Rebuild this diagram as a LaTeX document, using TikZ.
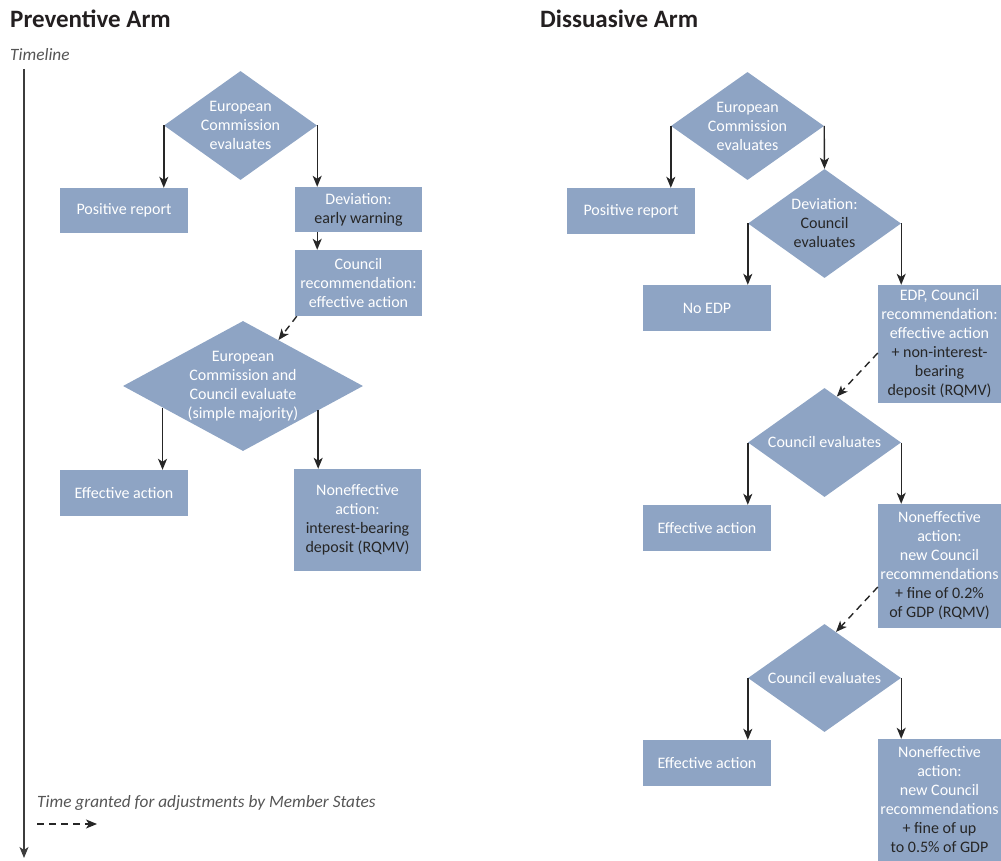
\documentclass[tikz,border=0pt]{standalone}
\usepackage{fontspec}
\setmainfont{Carlito}
\usepackage{xcolor}
\usepackage{tikz}
\usetikzlibrary{arrows.meta,shapes.geometric,calc}
\definecolor{armblue}{HTML}{8EA4C4}
\definecolor{textdark}{HTML}{262626}
\definecolor{titledark}{HTML}{231F20}
\definecolor{linegray}{HTML}{262626}
\definecolor{notegray}{HTML}{555555}
\newcommand{\darktext}[1]{\textcolor{textdark}{#1}}

\begin{document}
\begin{tikzpicture}[x=1pt,y=-1pt,
  box/.style={rectangle,fill=armblue,text=white,align=center,inner sep=0pt,font=\fontsize{16}{19}\selectfont},
  decision/.style={diamond,fill=armblue,text=white,align=center,inner sep=-4pt,font=\fontsize{16}{19}\selectfont},
  arr/.style={draw=linegray,line width=1.4pt,-{Stealth[length=11pt,width=9pt,inset=3pt]}},
  dasharr/.style={arr,dash pattern=on 7pt off 5pt},
  armtitle/.style={anchor=west,inner sep=0pt,text=titledark,font=\fontsize{25}{30}\selectfont\bfseries},
  note/.style={anchor=west,inner sep=0pt,text=notegray,font=\fontsize{17.3}{20}\selectfont\itshape}]
  \useasboundingbox (0,0) rectangle (1001,861);

  % timeline and legend
  \node[armtitle] (ptitle) at (10,19) {Preventive Arm};
  \node[note] (timeline) at (10,55) {Timeline};
  \coordinate (tltop) at (24,69);
  \coordinate (tlbot) at (24,858);
  \draw[arr,draw=notegray!70!black] (tltop) -- (tlbot);
  \node[note] (legend) at (37,803) {Time granted for adjustments by Member States};
  \coordinate (lgstart) at (37,824);
  \coordinate (lgend) at (97,824);
  \draw[dasharr] (lgstart) -- (lgend);

  % preventive arm
  \node[decision,aspect=1.4,minimum width=153pt,minimum height=109pt] (pd1) at (240.5,125.5) {European\\Commission\\evaluates};
  \node[box,minimum width=128pt,minimum height=45pt] (ppos) at (124,210.5) {Positive report};
  \node[box,minimum width=127pt,minimum height=45pt] (pdev) at (358.5,209.5) {Deviation:\\\darktext{early warning}};
  \node[box,minimum width=127pt,minimum height=66pt] (prec) at (358.5,283) {Council\\recommendation:\\effective action};
  \node[decision,aspect=1.85,minimum width=240pt,minimum height=130pt] (pd2) at (243,386) {European\\Commission and\\Council evaluate\\(simple majority)};
  \node[box,minimum width=128pt,minimum height=46pt] (peff) at (124,493) {Effective action};
  \node[box,minimum width=127pt,minimum height=102pt] (pnon) at (357.5,520) {Noneffective\\action:\\\darktext{interest-bearing}\\\darktext{deposit (RQMV)}};

  \draw[arr] (pd1.west) -- (pd1.west |- ppos.north);
  \draw[arr] (pd1.east) -- (pd1.east |- pdev.north);
  \draw[arr] (pd1.east |- pdev.south) -- (pd1.east |- prec.north);
  \draw[dasharr] ([xshift=2pt]prec.south west) -- (pd2);
  \draw[arr] (pd2.195.6) -- (pd2.195.6 |- peff.north);
  \draw[arr] (pd2.342.3) -- (pd2.342.3 |- pnon.north);

  % dissuasive arm
  \node[armtitle] (dtitle) at (540,19) {Dissuasive Arm};
  \node[decision,aspect=1.4,minimum width=153pt,minimum height=108pt] (dd1) at (747.5,126) {European\\Commission\\evaluates};
  \node[box,minimum width=128pt,minimum height=46pt] (dpos) at (631,211) {Positive report};
  \node[decision,aspect=1.4,minimum width=153pt,minimum height=109pt] (dd2) at (824.5,223.5) {Deviation:\\\darktext{Council}\\\darktext{evaluates}};
  \node[box,minimum width=128pt,minimum height=46pt] (dnoedp) at (707,308) {No EDP};
  \node[box,minimum width=123pt,minimum height=118pt] (dedp) at (939.5,344) {EDP, Council\\recommendation:\\effective action\\\darktext{+ non-interest-}\\\darktext{bearing}\\\darktext{deposit (RQMV)}};
  \node[decision,aspect=1.4,minimum width=153pt,minimum height=109pt] (dd3) at (824.5,442.5) {Council evaluates};
  \node[box,minimum width=128pt,minimum height=46pt] (deff1) at (707,528) {Effective action};
  \node[box,minimum width=123pt,minimum height=124pt] (dnon1) at (939.5,566) {Noneffective\\action:\\new Council\\recommendations\\\darktext{+ fine of 0.2\%}\\\darktext{of GDP (RQMV)}};
  \node[decision,aspect=1.4,minimum width=153pt,minimum height=108pt] (dd4) at (824.5,678) {Council evaluates};
  \node[box,minimum width=128pt,minimum height=46pt] (deff2) at (707,763) {Effective action};
  \node[box,minimum width=123pt,minimum height=122pt] (dnon2) at (939.5,800) {Noneffective\\action:\\new Council\\recommendations\\\darktext{+ fine of up}\\\darktext{to 0.5\% of GDP}};

  \draw[arr] (dd1.west) -- (dd1.west |- dpos.north);
  \draw[arr] (dd1.east) -- (dd2.north);
  \draw[arr] (dd2.west) -- (dd2.west |- dnoedp.north);
  \draw[arr] (dd2.east) -- (dd2.east |- dedp.north);
  \draw[dasharr] ([yshift=-9pt]dedp.west) -- (dd3.75);
  \draw[arr] (dd3.west) -- (dd3.west |- deff1.north);
  \draw[arr] (dd3.east) -- (dd3.east |- dnon1.north);
  \draw[dasharr] ([yshift=-21pt]dnon1.west) -- (dd4.76);
  \draw[arr] (dd4.west) -- (dd4.west |- deff2.north);
  \draw[arr] (dd4.east) -- (dd4.east |- dnon2.north);
\end{tikzpicture}
\end{document}
